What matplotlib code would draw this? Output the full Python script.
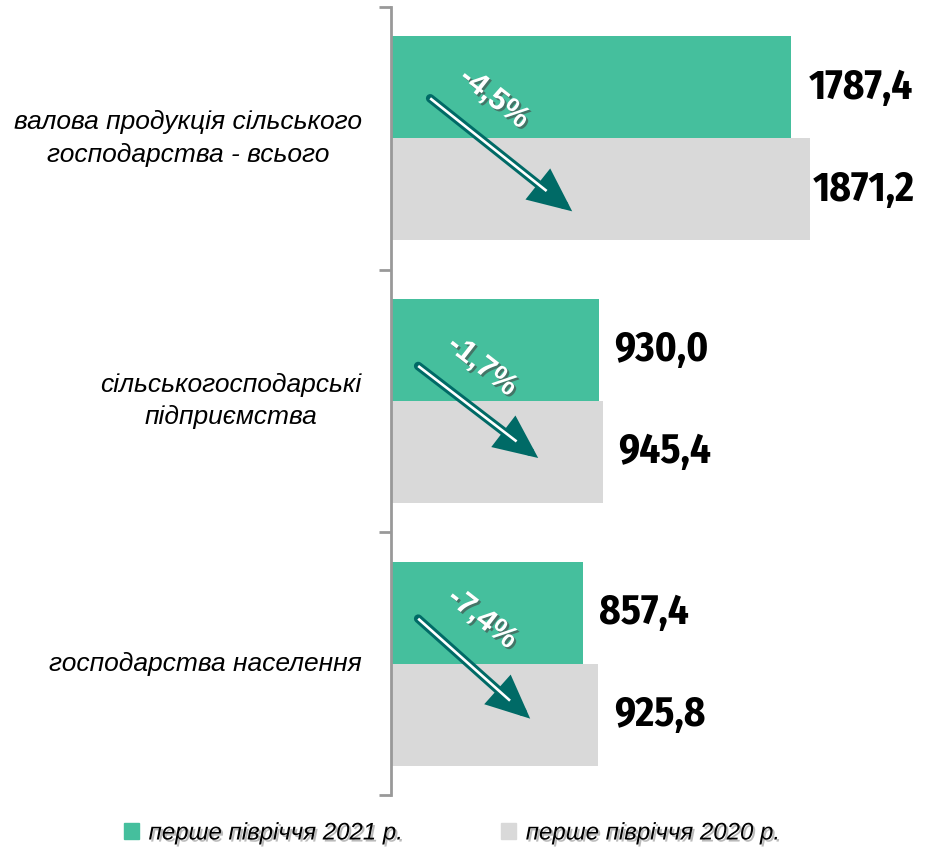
import matplotlib
matplotlib.use("Agg")
import matplotlib.pyplot as plt
import matplotlib.patheffects as pe
from matplotlib.patches import Patch
from matplotlib import font_manager

# Дані
categories = ["валова продукція сільського\nгосподарства - всього",
              "сільськогосподарські\nпідприємства",
              "господарства населення"]
values_2021 = [1787.4, 930.0, 857.4]
values_2020 = [1871.2, 945.4, 925.8]
changes = ["-4,5%", "-1,7%", "-7,4%"]
series_names = ["перше півріччя 2021 р.", "перше півріччя 2020 р."]

green = "#45bf9d"
grey = "#d9d9d9"
teal = "#006a66"

# вузький шрифт для чисел, якщо є
names = {f.name for f in font_manager.fontManager.ttflist}
narrow = "Liberation Sans"
for n in ["Liberation Sans Narrow", "Fira Sans Condensed", "Asap Condensed"]:
    if n in names:
        narrow = n
        break

fig = plt.figure(figsize=(9.25, 8.55), dpi=100)
ax = fig.add_axes([391 / 925, 60 / 855, 448 / 925, 788 / 855])

h = 0.388
ys = [i + 0.5 for i in range(len(categories))]
ax.barh([y - h / 2 for y in ys], values_2021, height=h, color=green, label=series_names[0])
ax.barh([y + h / 2 for y in ys], values_2020, height=h, color=grey, label=series_names[1])

ax.set_xlim(0, 2000)
ax.set_ylim(len(categories), 0)
ax.set_xticks([])
ax.set_yticks(range(len(categories) + 1))
ax.set_yticklabels([])
ax.tick_params(axis="y", length=9, width=2, color="#999999", direction="out")
for s in ["top", "right", "bottom"]:
    ax.spines[s].set_visible(False)
ax.spines["left"].set_color("#999999")
ax.spines["left"].set_linewidth(2)

# підписи категорій
for y, c in zip(ys, categories):
    ax.text(-130, y, c, ha="right", va="center", multialignment="center",
            fontsize=19, style="italic", family="Liberation Sans",
            linespacing=1.45)

# значення
pads_2021 = [17, 15, 16]
pads_2020 = [3, 15, 16]
for vals, off, pads in [(values_2021, -h / 2, pads_2021), (values_2020, h / 2, pads_2020)]:
    for y, v, p in zip(ys, vals, pads):
        ax.annotate(f"{v:.1f}".replace(".", ","), (v, y + off),
                    xytext=(p, 0), textcoords="offset pixels",
                    ha="left", va="center", fontsize=29.5, fontweight="bold",
                    family=narrow)

# стрілки зі зміною (зсуви у пікселях)
arrow_len = [(142, 113), (120, 92), (112, 100)]
start_dy = [40, 35, 45]
inv = ax.transData.inverted()
for y, ch, (dx, dy), sy in zip(ys, changes, arrow_len, start_dy):
    x0, y0 = ax.transData.transform((175, y))
    x0 = x0 - (0 if sy == 40 else 12)
    y0 = y0 + sy
    p0 = inv.transform((x0, y0))
    p1 = inv.transform((x0 + dx, y0 - dy))
    ax.annotate("", xy=p1, xytext=p0, zorder=4,
                arrowprops=dict(arrowstyle="-|>,head_length=2.1,head_width=0.95",
                                lw=6.2, color=teal, shrinkA=0, shrinkB=0,
                                joinstyle="miter"))
    pm = inv.transform((x0 + dx * 0.82, y0 - dy * 0.82))
    ax.plot([p0[0], pm[0]], [p0[1], pm[1]], color="white", lw=1.9,
            solid_capstyle="butt", zorder=5)
    # текст над стрілкою
    tp = inv.transform((x0 + 64, y0))
    ax.text(tp[0], tp[1], ch, rotation=-38, rotation_mode="anchor",
            ha="center", va="center", fontsize=22, color="white",
            fontweight="bold", family="Liberation Sans", zorder=6,
            path_effects=[pe.withSimplePatchShadow(offset=(1.5, -1.5),
                                                   shadow_rgbFace="#444444",
                                                   alpha=0.6)])

handles = [Patch(color=green), Patch(color=grey)]
leg = fig.legend(handles, series_names, loc="center", bbox_to_anchor=(452 / 925, 22 / 855),
                 ncol=2, frameon=False, handlelength=0.62, handleheight=0.62,
                 handletextpad=0.4, columnspacing=4.1,
                 prop=dict(family="Liberation Sans", style="italic", size=17.3))
for t in leg.get_texts():
    t.set_path_effects([pe.withSimplePatchShadow(offset=(1.5, -1.5),
                                                 shadow_rgbFace="#777777", alpha=0.5)])

fig.savefig("out.png", dpi=100)
